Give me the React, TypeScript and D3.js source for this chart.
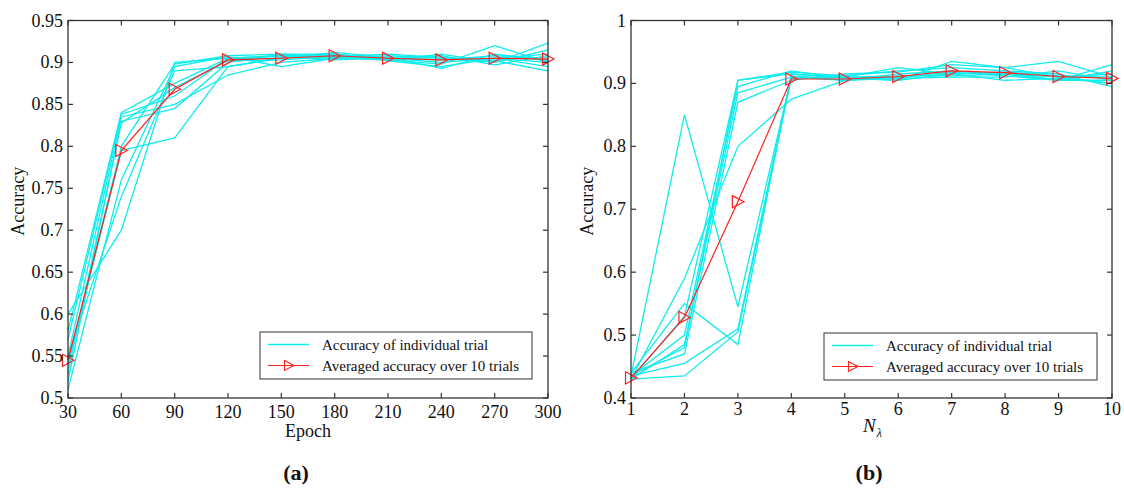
import React from 'react';
import * as d3 from 'd3';

// panel (a): accuracy vs epoch
const epochs = [30, 60, 90, 120, 150, 180, 210, 240, 270, 300];
const epochTrials = [
  [0.58, 0.84, 0.875, 0.905, 0.908, 0.91, 0.905, 0.9, 0.905, 0.91],
  [0.6, 0.7, 0.9, 0.905, 0.905, 0.908, 0.903, 0.898, 0.92, 0.9],
  [0.55, 0.835, 0.85, 0.885, 0.9, 0.905, 0.908, 0.905, 0.9, 0.923],
  [0.52, 0.83, 0.845, 0.9, 0.91, 0.91, 0.902, 0.895, 0.905, 0.895],
  [0.54, 0.795, 0.81, 0.895, 0.905, 0.912, 0.906, 0.903, 0.908, 0.905],
  [0.51, 0.76, 0.895, 0.907, 0.895, 0.905, 0.903, 0.91, 0.9, 0.915],
  [0.53, 0.828, 0.87, 0.902, 0.903, 0.907, 0.91, 0.906, 0.902, 0.89],
  [0.57, 0.838, 0.86, 0.905, 0.908, 0.903, 0.906, 0.893, 0.91, 0.902],
  [0.55, 0.74, 0.89, 0.895, 0.906, 0.909, 0.904, 0.908, 0.897, 0.908],
  [0.54, 0.8, 0.898, 0.908, 0.91, 0.906, 0.905, 0.903, 0.905, 0.9],
];
const epochMean = [0.545, 0.795, 0.868, 0.903, 0.905, 0.908, 0.905, 0.903, 0.905, 0.904];
const epochYTicks = [0.5, 0.55, 0.6, 0.65, 0.7, 0.75, 0.8, 0.85, 0.9, 0.95];
const epochYLabels = ['0.5', '0.55', '0.6', '0.65', '0.7', '0.75', '0.8', '0.85', '0.9', '0.95'];

// panel (b): accuracy vs N_lambda
const nLambda = [1, 2, 3, 4, 5, 6, 7, 8, 9, 10];
const nTrials = [
  [0.435, 0.85, 0.545, 0.91, 0.91, 0.925, 0.915, 0.918, 0.905, 0.905],
  [0.43, 0.59, 0.8, 0.875, 0.905, 0.915, 0.92, 0.915, 0.91, 0.9],
  [0.44, 0.55, 0.485, 0.915, 0.91, 0.905, 0.935, 0.925, 0.935, 0.91],
  [0.43, 0.53, 0.905, 0.918, 0.912, 0.92, 0.925, 0.92, 0.915, 0.895],
  [0.435, 0.5, 0.895, 0.92, 0.908, 0.91, 0.918, 0.912, 0.905, 0.93],
  [0.43, 0.485, 0.885, 0.91, 0.905, 0.908, 0.91, 0.91, 0.92, 0.905],
  [0.44, 0.47, 0.87, 0.905, 0.915, 0.918, 0.93, 0.925, 0.91, 0.915],
  [0.435, 0.455, 0.51, 0.912, 0.905, 0.91, 0.915, 0.905, 0.908, 0.9],
  [0.43, 0.435, 0.505, 0.908, 0.91, 0.912, 0.912, 0.915, 0.905, 0.92],
  [0.435, 0.48, 0.905, 0.915, 0.908, 0.905, 0.915, 0.918, 0.912, 0.91],
];
const nMean = [0.432, 0.528, 0.712, 0.907, 0.907, 0.911, 0.92, 0.917, 0.911, 0.908];
const nYTicks = [0.4, 0.5, 0.6, 0.7, 0.8, 0.9, 1];
const nYLabels = ['0.4', '0.5', '0.6', '0.7', '0.8', '0.9', '1'];

const legendLabels = ['Accuracy of individual trial', 'Averaged accuracy over 10 trials'];

const CYAN = '#10ecee';
const RED = '#ff2020';
const AXIS = '#333';
const serif: React.CSSProperties = { fontFamily: "'Liberation Serif', 'DejaVu Serif', serif" };

interface PanelProps {
  xs: number[];
  trials: number[][];
  mean: number[];
  yTicks: number[];
  yLabels: string[];
  box: { x0: number; x1: number; y0: number; y1: number };
  xLabelBase: number;
  yLabelX: number;
  yTitleX: number;
  xTitle: React.ReactNode;
  caption: string;
  captionX: number;
  legend: { x: number; y: number; w: number; h: number };
}

const tri = (cx: number, cy: number, s: number) =>
  `M${cx - s * 0.5},${cy - s * 0.55}L${cx + s * 0.55},${cy}L${cx - s * 0.5},${cy + s * 0.55}Z`;

const Panel: React.FC<PanelProps> = (p) => {
  const { x0, x1, y0, y1 } = p.box;
  const x = d3.scaleLinear().domain(d3.extent(p.xs) as [number, number]).range([x0, x1]);
  const y = d3
    .scaleLinear()
    .domain([p.yTicks[0], p.yTicks[p.yTicks.length - 1]])
    .range([y1, y0]);
  const line = d3
    .line<number>()
    .x((_, i) => x(p.xs[i]))
    .y((d) => y(d));
  const tk = 5;
  const lg = p.legend;
  return (
    <g>
      {p.trials.map((t, i) => (
        <path key={i} d={line(t) || ''} fill="none" stroke={CYAN} strokeWidth={1.3} />
      ))}
      <path d={line(p.mean) || ''} fill="none" stroke={RED} strokeWidth={1.2} />
      {p.mean.map((m, i) => (
        <path key={i} d={tri(x(p.xs[i]), y(m), 11)} fill="none" stroke={RED} strokeWidth={1.2} />
      ))}
      {/* frame */}
      <rect x={x0} y={y0} width={x1 - x0} height={y1 - y0} fill="none" stroke={AXIS} strokeWidth={1.3} />
      {p.xs.map((v) => (
        <g key={v}>
          <line x1={x(v)} x2={x(v)} y1={y1} y2={y1 - tk} stroke={AXIS} strokeWidth={1.2} />
          <line x1={x(v)} x2={x(v)} y1={y0} y2={y0 + tk} stroke={AXIS} strokeWidth={1.2} />
          <text x={x(v)} y={p.xLabelBase} textAnchor="middle" fontSize={18} style={serif} fill="#111">
            {v}
          </text>
        </g>
      ))}
      {p.yTicks.map((v, i) => (
        <g key={v}>
          <line x1={x0} x2={x0 + tk} y1={y(v)} y2={y(v)} stroke={AXIS} strokeWidth={1.2} />
          <line x1={x1} x2={x1 - tk} y1={y(v)} y2={y(v)} stroke={AXIS} strokeWidth={1.2} />
          <text x={p.yLabelX} y={y(v) + 6} textAnchor="end" fontSize={18} style={serif} fill="#111">
            {p.yLabels[i]}
          </text>
        </g>
      ))}
      <text
        transform={`translate(${p.yTitleX},${(y0 + y1) / 2 - 8}) rotate(-90)`}
        textAnchor="middle"
        fontSize={18}
        style={serif}
        fill="#111"
      >
        Accuracy
      </text>
      {p.xTitle}
      <text x={p.captionX} y={480} textAnchor="middle" fontSize={22} fontWeight="bold" style={serif} fill="#111">
        ({p.caption})
      </text>
      {/* legend */}
      <rect x={lg.x} y={lg.y} width={lg.w} height={lg.h} fill="#fff" stroke={AXIS} strokeWidth={1} />
      <line x1={lg.x + 8} x2={lg.x + 49} y1={lg.y + 12.5} y2={lg.y + 12.5} stroke={CYAN} strokeWidth={1.3} />
      <line x1={lg.x + 8} x2={lg.x + 49} y1={lg.y + 33.5} y2={lg.y + 33.5} stroke={RED} strokeWidth={1.2} />
      <path d={tri(lg.x + 29, lg.y + 33.5, 9)} fill="none" stroke={RED} strokeWidth={1.1} />
      {legendLabels.map((t, i) => (
        <text key={t} x={lg.x + 62} y={lg.y + 18 + i * 21} fontSize={15} style={serif} fill="#111">
          {t}
        </text>
      ))}
    </g>
  );
};

const App: React.FC = () => (
  <svg
    width={1124}
    height={488}
    style={{ position: 'absolute', left: 0, top: 0, background: '#fff' }}
  >
    <Panel
      xs={epochs}
      trials={epochTrials}
      mean={epochMean}
      yTicks={epochYTicks}
      yLabels={epochYLabels}
      box={{ x0: 68, x1: 548, y0: 20.5, y1: 398 }}
      xLabelBase={418}
      yLabelX={63}
      yTitleX={24}
      xTitle={
        <text x={308} y={437} textAnchor="middle" fontSize={18} style={serif} fill="#111">
          Epoch
        </text>
      }
      caption="a"
      captionX={296}
      legend={{ x: 260, y: 332, w: 272, h: 47 }}
    />
    <Panel
      xs={nLambda}
      trials={nTrials}
      mean={nMean}
      yTicks={nYTicks}
      yLabels={nYLabels}
      box={{ x0: 631, x1: 1112, y0: 20.5, y1: 398 }}
      xLabelBase={415}
      yLabelX={626}
      yTitleX={593}
      xTitle={
        <text x={863} y={432} fontSize={19} fontStyle="italic" style={serif} fill="#111">
          N
          <tspan dx={1} dy={5} fontSize={12}>
            λ
          </tspan>
        </text>
      }
      caption="b"
      captionX={869}
      legend={{ x: 824, y: 333, w: 273, h: 47 }}
    />
  </svg>
);

export default App;
